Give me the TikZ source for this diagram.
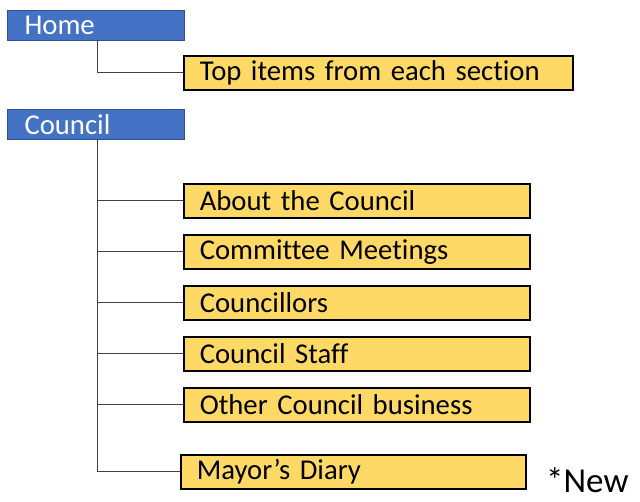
\documentclass[tikz,border=0pt]{standalone}
\usepackage{fontspec}
\setmainfont{Carlito}[Ligatures=NoCommon]
\definecolor{bluefill}{HTML}{4472C4}
\definecolor{blueedge}{HTML}{2F528F}
\definecolor{yellowfill}{HTML}{FFD966}
\definecolor{linecol}{HTML}{404040}
\tikzset{
  sect/.style={draw=blueedge, line width=1pt, fill=bluefill, text=white,
    anchor=north west, minimum height=30pt, inner xsep=17pt, inner ysep=0pt,
    text width=143pt, align=left, font=\fontsize{28.7}{30}\selectfont},
  item/.style={draw=black, line width=1.6pt, fill=yellowfill, text=black,
    anchor=north west, minimum height=34pt, inner xsep=16pt, inner ysep=0pt,
    text width=#1, align=left, font=\fontsize{28.7}{30}\selectfont},
  conn/.style={draw=linecol, line width=1pt}
}
\begin{document}
\begin{tikzpicture}[x=1pt,y=-1pt]
\useasboundingbox (0,0) rectangle (640,501);
\node[sect] (home) at (7,10) {Home};
\node[sect] (council) at (7,109) {Council};
\node[item=357pt] (top) at (183,55) {Top items from each section};
\node[item=314pt] (about) at (183,183) {About the Council};
\node[item=314pt] (committee) at (183,234) {Committee Meetings};
\node[item=314pt] (councillors) at (183,285) {Councillors};
\node[item=314pt] (staff) at (183,336) {Council Staff};
\node[item=314pt] (other) at (183,387) {Other Council business};
\node[item=313pt] (mayor) at (180,454) {Mayor’s Diary};
\node[anchor=base west, inner sep=0pt, font=\fontsize{35}{38}\selectfont] (new) at (546,492) {*New};
\coordinate (hx) at (97,40);
\coordinate (cx) at (97,139);
\draw[conn] (hx) |- (top.west);
\draw[conn] (cx) |- (mayor.west);
\draw[conn] (cx |- about.west) -- (about.west);
\draw[conn] (cx |- committee.west) -- (committee.west);
\draw[conn] (cx |- councillors.west) -- (councillors.west);
\draw[conn] (cx |- staff.west) -- (staff.west);
\draw[conn] (cx |- other.west) -- (other.west);
\end{tikzpicture}
\end{document}
